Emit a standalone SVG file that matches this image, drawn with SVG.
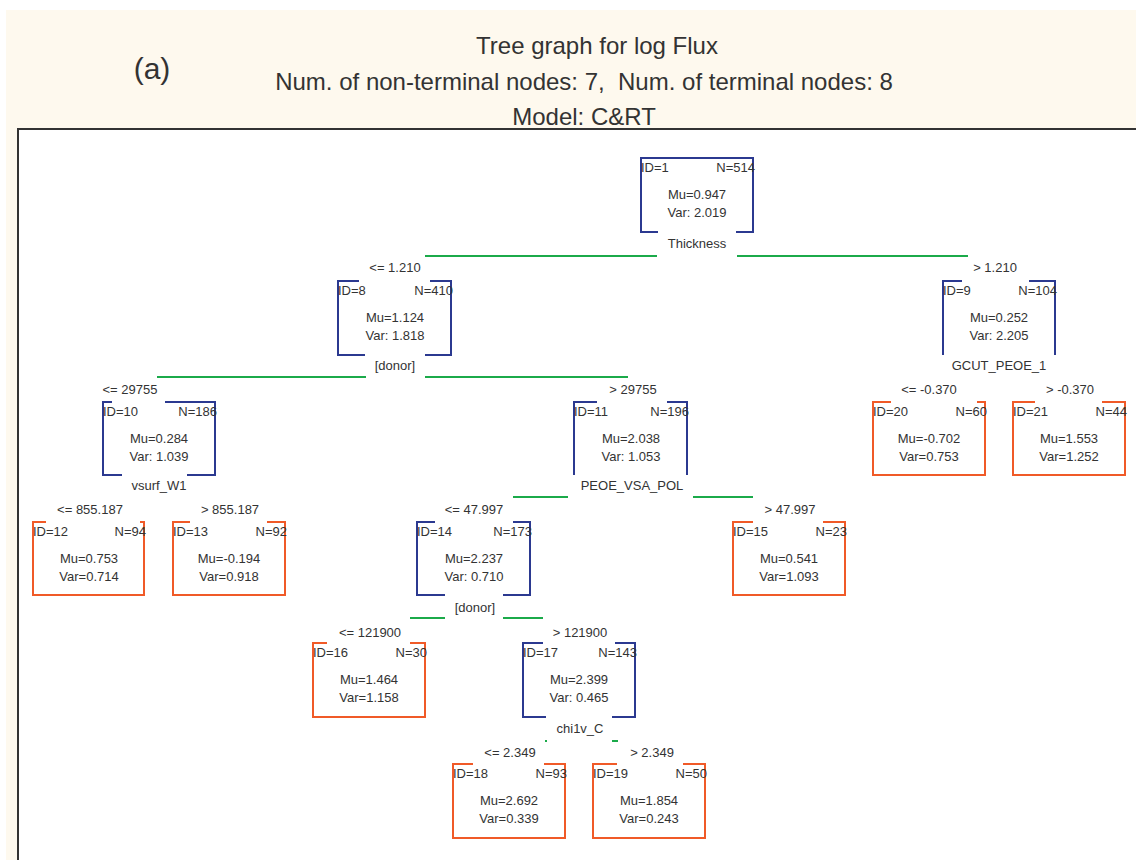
<svg xmlns="http://www.w3.org/2000/svg" width="1136" height="860" viewBox="0 0 1136 860">
  <style>
    text { font-family: "Liberation Sans", Arial, sans-serif; fill: #333; }
    .t { font-size: 13px; }
    .m { text-anchor: middle; }
    .e { text-anchor: end; }
    .title { font-size: 24px; text-anchor: middle; }
    .box { fill: none; stroke-width: 2; }
    .split { stroke: #2B3990; }
    .leaf { stroke: #F05A28; }
    .edge { stroke: #1BAA4A; stroke-width: 2; fill: none; }
  </style>

  <!-- panel and plot frame -->
  <rect x="6" y="10" width="1130" height="850" fill="#FEF9EE"/>
  <rect x="18" y="129" width="1118" height="731" fill="#FFFFFF"/>
  <path d="M18,860 V129 H1136" fill="none" stroke="#333" stroke-width="2"/>

  <!-- header -->
  <text class="title" x="597" y="54" font-size="26">Tree graph for log Flux</text>
  <text class="title" x="584" y="90" xml:space="preserve">Num. of non-terminal nodes: 7,  Num. of terminal nodes: 8</text>
  <text class="title" x="584" y="125">Model: C&amp;RT</text>
  <text x="152" y="79" font-size="30" text-anchor="middle">(a)</text>

  <!-- branch lines and split conditions -->
  <g id="connectors">
    <path class="edge" d="M425,256 H657 M737,256 H968"/>
    <path class="edge" d="M157,377 H366 M425,377 H628"/>
    <path class="edge" d="M513,497 H568 M693,497 H753"/>
    <path class="edge" d="M410,618 H445 M503,618 H543"/>
    <path class="edge" d="M545,741 H547 M612,741 H618"/>
    <g class="t m">
      <text x="395" y="272">&lt;= 1.210</text>
      <text x="995" y="272">&gt; 1.210</text>
      <text x="130" y="394">&lt;= 29755</text>
      <text x="633" y="394">&gt; 29755</text>
      <text x="929" y="394">&lt;= -0.370</text>
      <text x="1070" y="394">&gt; -0.370</text>
      <text x="90" y="514">&lt;= 855.187</text>
      <text x="230" y="514">&gt; 855.187</text>
      <text x="474" y="514">&lt;= 47.997</text>
      <text x="790" y="514">&gt; 47.997</text>
      <text x="370" y="637">&lt;= 121900</text>
      <text x="580" y="637">&gt; 121900</text>
      <text x="510" y="757">&lt;= 2.349</text>
      <text x="652" y="757">&gt; 2.349</text>
    </g>
  </g>

  <!-- non-terminal nodes -->
  <g id="node-1" class="t">
    <path class="box split" d="M658,232 H641 V158 H753 V232 H736"/>
    <text x="641" y="172">ID=1</text><text class="e" x="755" y="172">N=514</text>
    <text class="m" x="697" y="199">Mu=0.947</text><text class="m" x="697" y="217">Var: 2.019</text>
    <text class="m" x="697" y="248">Thickness</text>
  </g>
  <g id="node-8" class="t">
    <path class="box split" d="M359,281 H338 V355 H365 M425,355 H451 V281 H430"/>
    <text x="338" y="295">ID=8</text><text class="e" x="453" y="295">N=410</text>
    <text class="m" x="395" y="322">Mu=1.124</text><text class="m" x="395" y="340">Var: 1.818</text>
    <text class="m" x="395" y="370">[donor]</text>
  </g>
  <g id="node-9" class="t">
    <path class="box split" d="M962,281 H943 V355 M1055,355 V281 H1029"/>
    <text x="943" y="295">ID=9</text><text class="e" x="1057" y="295">N=104</text>
    <text class="m" x="999" y="322">Mu=0.252</text><text class="m" x="999" y="340">Var: 2.205</text>
    <text class="m" x="999" y="370">GCUT_PEOE_1</text>
  </g>
  <g id="node-10" class="t">
    <path class="box split" d="M112,402 H103 V475 H122 M187,475 H215 V402 H165"/>
    <text x="103" y="416">ID=10</text><text class="e" x="217" y="416">N=186</text>
    <text class="m" x="159" y="443">Mu=0.284</text><text class="m" x="159" y="461">Var: 1.039</text>
    <text class="m" x="159" y="490">vsurf_W1</text>
  </g>
  <g id="node-11" class="t">
    <path class="box split" d="M597,402 H574 V475 M687,475 V402 H667"/>
    <text x="574" y="416">ID=11</text><text class="e" x="689" y="416">N=196</text>
    <text class="m" x="631" y="443">Mu=2.038</text><text class="m" x="631" y="461">Var: 1.053</text>
    <text class="m" x="632" y="490">PEOE_VSA_POL</text>
  </g>
  <g id="node-14" class="t">
    <path class="box split" d="M435,522 H417 V595 H445 M503,595 H530 V522 H513"/>
    <text x="417" y="536">ID=14</text><text class="e" x="532" y="536">N=173</text>
    <text class="m" x="474" y="563">Mu=2.237</text><text class="m" x="474" y="581">Var: 0.710</text>
    <text class="m" x="475" y="612">[donor]</text>
  </g>
  <g id="node-17" class="t">
    <path class="box split" d="M543,643 H523 V717 H546 M612,717 H635 V643 H615"/>
    <text x="523" y="657">ID=17</text><text class="e" x="637" y="657">N=143</text>
    <text class="m" x="579" y="684">Mu=2.399</text><text class="m" x="579" y="702">Var: 0.465</text>
    <text class="m" x="580" y="733">chi1v_C</text>
  </g>

  <!-- terminal nodes -->
  <g id="node-20" class="t">
    <path class="box leaf" d="M891,402 H873 V475 H985 V402 H977"/>
    <text x="873" y="416">ID=20</text><text class="e" x="987" y="416">N=60</text>
    <text class="m" x="929" y="443">Mu=-0.702</text><text class="m" x="929" y="461">Var=0.753</text>
  </g>
  <g id="node-21" class="t">
    <path class="box leaf" d="M1035,402 H1013 V475 H1125 V402 H1102"/>
    <text x="1013" y="416">ID=21</text><text class="e" x="1127" y="416">N=44</text>
    <text class="m" x="1069" y="443">Mu=1.553</text><text class="m" x="1069" y="461">Var=1.252</text>
  </g>
  <g id="node-12" class="t">
    <path class="box leaf" d="M46,522 H33 V595 H144 V522 H140"/>
    <text x="33" y="536">ID=12</text><text class="e" x="146" y="536">N=94</text>
    <text class="m" x="89" y="563">Mu=0.753</text><text class="m" x="89" y="581">Var=0.714</text>
  </g>
  <g id="node-13" class="t">
    <path class="box leaf" d="M190,522 H173 V595 H285 V522 H267"/>
    <text x="173" y="536">ID=13</text><text class="e" x="287" y="536">N=92</text>
    <text class="m" x="229" y="563">Mu=-0.194</text><text class="m" x="229" y="581">Var=0.918</text>
  </g>
  <g id="node-15" class="t">
    <path class="box leaf" d="M753,522 H733 V595 H845 V522 H823"/>
    <text x="733" y="536">ID=15</text><text class="e" x="847" y="536">N=23</text>
    <text class="m" x="789" y="563">Mu=0.541</text><text class="m" x="789" y="581">Var=1.093</text>
  </g>
  <g id="node-16" class="t">
    <path class="box leaf" d="M327,643 H313 V717 H425 V643 H410"/>
    <text x="313" y="657">ID=16</text><text class="e" x="427" y="657">N=30</text>
    <text class="m" x="369" y="684">Mu=1.464</text><text class="m" x="369" y="702">Var=1.158</text>
  </g>
  <g id="node-18" class="t">
    <path class="box leaf" d="M473,764 H453 V838 H565 V764 H544"/>
    <text x="453" y="778">ID=18</text><text class="e" x="567" y="778">N=93</text>
    <text class="m" x="509" y="805">Mu=2.692</text><text class="m" x="509" y="823">Var=0.339</text>
  </g>
  <g id="node-19" class="t">
    <path class="box leaf" d="M617,764 H593 V838 H705 V764 H683"/>
    <text x="593" y="778">ID=19</text><text class="e" x="707" y="778">N=50</text>
    <text class="m" x="649" y="805">Mu=1.854</text><text class="m" x="649" y="823">Var=0.243</text>
  </g>
</svg>
